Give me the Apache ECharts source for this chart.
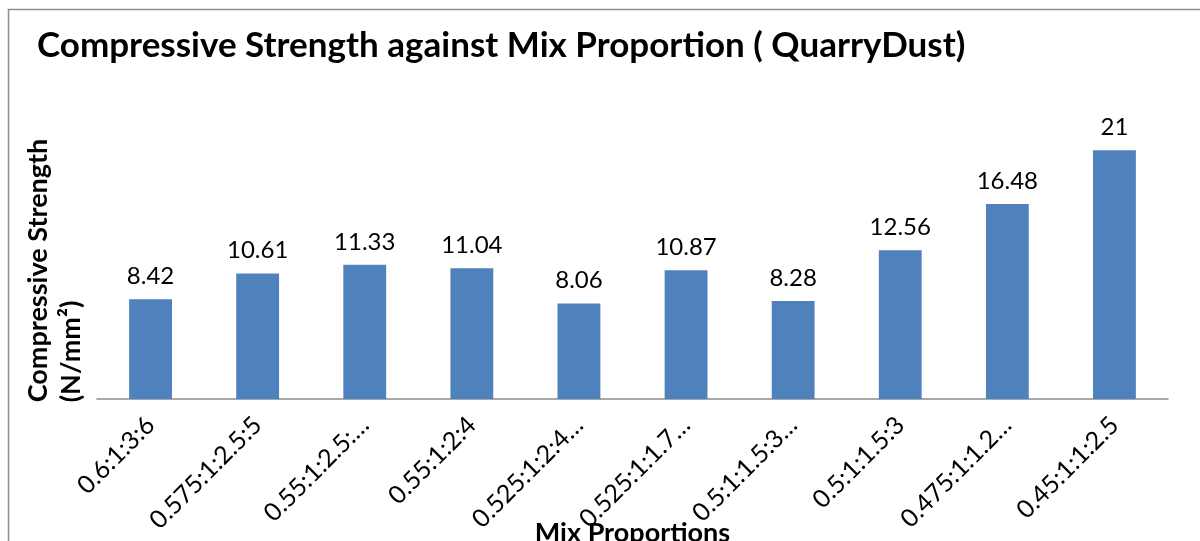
<!DOCTYPE html>
<html>
<head>
<meta charset="utf-8">
<script src="https://cdn.jsdelivr.net/npm/echarts@6/dist/echarts.min.js"></script>
<style>
  html, body { margin: 0; padding: 0; background: #fff; }
  #box1 { width: 1200px; height: 541px; }
</style>
</head>
<body>
<div id="box1"></div>
<script>
// mix proportions as they appear on the axis (long ones are cut off in the original)
let categories = ['0.6:1:3:6', '0.575:1:2.5:5', '0.55:1:2.5:…', '0.55:1:2:4', '0.525:1:2:4…',
    '0.525:1:1.7…', '0.5:1:1.5:3…', '0.5:1:1.5:3', '0.475:1:1.2…', '0.45:1:1:2.5'];
let strength = [8.42, 10.61, 11.33, 11.04, 8.06, 10.87, 8.28, 12.56, 16.48, 21];
let yMin = 0;
let yMax = 25;

let box1 = document.querySelector('#box1');
let myChart1 = echarts.init(box1);
let option1 = {
    animation: false,
    title: {
        text: 'Compressive Strength against Mix Proportion ( QuarryDust)',
        left: 32,
        top: 23,
        textStyle: {
            fontFamily: 'Lato',
            fontWeight: 'bold',
            fontSize: 35,
            color: '#000'
        }
    },
    graphic: [
        {
            type: 'rect',
            shape: { x: 8.5, y: 9.5, width: 1300, height: 600 },
            style: { fill: 'none', stroke: '#8c8c8c', lineWidth: 1.5 }
        },
        {
            type: 'text',
            left: 22,
            top: 'middle',
            rotation: Math.PI / 2,
            style: {
                text: 'Compressive Strength\n(N/mm²)',
                font: 'bold 27px Lato',
                fill: '#000',
                align: 'center',
                lineHeight: 33
            }
        }
    ],
    grid: {
        left: 97,
        right: 32,
        top: 103,
        bottom: 142,
        outerBoundsMode: 'none'
    },
    xAxis: {
        type: 'category',
        data: categories,
        name: 'Mix Proportions',
        nameLocation: 'middle',
        nameGap: 121,
        nameMoveOverlap: false,
        nameTextStyle: {
            fontFamily: 'Lato',
            fontWeight: 'bold',
            fontSize: 27,
            color: '#000'
        },
        axisLine: { lineStyle: { color: '#8c8c8c', width: 1.5 } },
        axisTick: { show: false },
        axisLabel: {
            interval: 0,
            rotate: 45,
            margin: 22,
            fontFamily: 'Lato',
            fontSize: 25,
            color: '#000'
        }
    },
    yAxis: {
        type: 'value',
        min: yMin,
        max: yMax,
        axisLine: { show: false },
        axisTick: { show: false },
        axisLabel: { show: false },
        splitLine: { show: false }
    },
    series: [
        {
            name: 'Compressive Strength',
            type: 'bar',
            data: strength,
            barCategoryGap: '60%',
            itemStyle: { color: '#4f81bd' },
            label: {
                show: true,
                position: 'top',
                distance: 11,
                fontFamily: 'Lato',
                fontSize: 24,
                color: '#000'
            }
        }
    ]
};
myChart1.setOption(option1);
</script>
</body>
</html>
